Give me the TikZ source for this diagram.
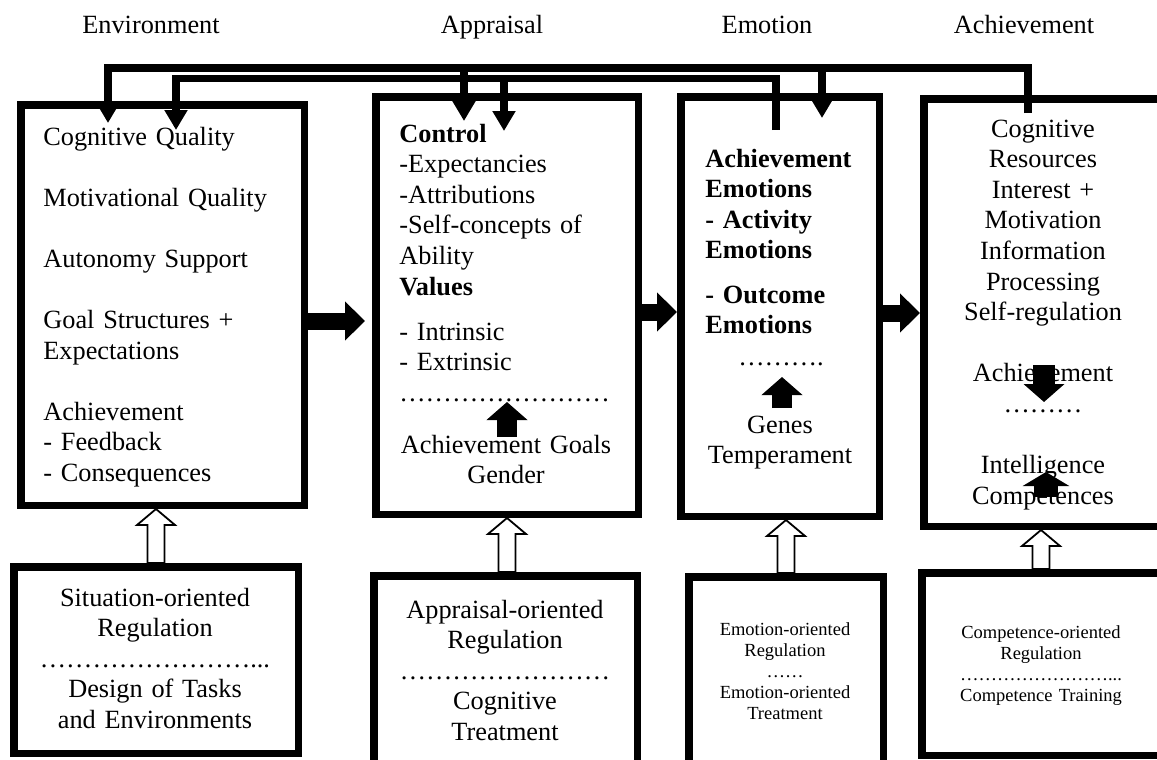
\documentclass[tikz,border=0pt]{standalone}
\usepackage{fontspec}
\setmainfont{Liberation Serif}
\usepackage{tikz}
\usetikzlibrary{arrows.meta,calc}

% hollow up arrow from #1 (foot) to #2 (tip)
\newcommand{\hollowup}[2]{%
  \path (#1) coordinate (hfoot) (#2) coordinate (htip);
  \draw[hollow] (htip) -- ++(19,16) -- ++(-10.5,0) -- ($(hfoot)+(8.5,0)$)
    -- ($(hfoot)+(-8.5,0)$) -- ($(htip)+(-8.5,16)$) -- ++(-10.5,0) -- cycle;}
% a row of #1 ellipses
\newcommand{\dotrow}[1]{\foreach \k in {1,...,#1}{\char"2026}}

\begin{document}
\begin{tikzpicture}[x=0.5pt, y=-0.5pt,
  box/.style={draw, line width=3.75pt, outer sep=1.875pt, inner sep=0pt},
  txt/.style={inner sep=0pt, font=\fontsize{13.15pt}{15.3pt}\selectfont},
  smalltxt/.style={inner sep=0pt, font=\fontsize{9.25pt}{10.6pt}\selectfont},
  fbline/.style={line width=3.75pt, -{Triangle[length=10pt, width=11pt]}},
  blockarrow/.style={line width=8.5pt, -{Triangle[length=10pt, width=19pt]}},
  solidarrow/.style={line width=10pt, -{Triangle[length=9pt, width=20pt]}},
  hollow/.style={draw, fill=white, line width=0.9pt}]
\useasboundingbox (0,0) rectangle (1157,760);
\clip (0,0) rectangle (1157,760);
\fill[white] (0,0) rectangle (1157,760);
% Column titles
\node[txt, anchor=base] (lenv) at (151,33) {Environment};
\node[txt, anchor=base] (lapr) at (492,33) {Appraisal};
\node[txt, anchor=base] (lemo) at (767,33) {Emotion};
\node[txt, anchor=base] (lach) at (1024,33) {Achievement};
% Top row boxes
\node[box, minimum width=141.75pt, minimum height=200.25pt] (env) at (162.5,305) {};
\node[box, minimum width=131.25pt, minimum height=208.75pt] (apr) at (507,305.5) {};
\node[box, minimum width=99.25pt, minimum height=209.75pt] (emo) at (780,306.5) {};
\node[box, minimum width=119.25pt, minimum height=213.75pt] (ach) at (1043,312.5) {};
% Regulation boxes
\node[box, minimum width=142.25pt, minimum height=93.25pt] (sitreg) at (156,660) {};
\node[box, minimum width=131.75pt, minimum height=105.25pt] (aprreg) at (505.5,681) {};
\node[box, minimum width=97.25pt, minimum height=104.75pt] (emoreg) at (786,681.5) {};
\node[box, minimum width=119.25pt, minimum height=91.25pt] (comreg) at (1041,664) {};
% Environment text
\node[txt, text width=130pt, align=left, anchor=base west] (envtxt) at (43,145)
  {Cognitive Quality\\[15.3pt]Motivational Quality\\[15.3pt]Autonomy Support\\[15.3pt]%
   Goal Structures +\\Expectations\\[15.3pt]Achievement\\- Feedback\\- Consequences};
% Appraisal text
\node[txt, text width=115pt, align=left, anchor=base west] (aprtxt) at (399,142)
  {\textbf{Control}\\-Expectancies\\-Attributions\\-Self-concepts of\\Ability\\\textbf{Values}\\[7.2pt]%
   - Intrinsic\\- Extrinsic\\\dotrow{8}};
\node[txt, text width=120pt, align=center, anchor=base] (aprlow) at (506,453)
  {Achievement Goals\\Gender};
% Emotion text
\node[txt, font=\fontsize{13.15pt}{15.3pt}\selectfont\bfseries, text width=85pt, align=left,
  anchor=base west] (emotxt) at (705,167)
  {Achievement\\Emotions\\- Activity\\Emotions\\[6.8pt]- Outcome\\Emotions};
\node[txt, anchor=base] (emodots) at (781,365) {\dotrow{3}.};
\node[txt, text width=90pt, align=center, anchor=base] (emolow) at (780,433)
  {Genes\\Temperament};
% Achievement text
\node[txt, text width=110pt, align=center, anchor=base] (achtxt) at (1043,137)
  {Cognitive\\Resources\\Interest +\\Motivation\\Information\\Processing\\Self-regulation\\[15.3pt]%
   Achievement\\\dotrow{3}\\[15.3pt]Intelligence\\Competences};
% Regulation texts
\node[txt, text width=140pt, align=center, anchor=base] (sittxt) at (155,606)
  {Situation-oriented\\Regulation\\\dotrow{8}...\\Design of Tasks\\and Environments};
\node[txt, text width=130pt, align=center, anchor=base] (aprregtxt) at (505,618)
  {Appraisal-oriented\\Regulation\\\dotrow{8}\\Cognitive\\Treatment};
\node[smalltxt, text width=95pt, align=center, anchor=base] (emoregtxt) at (785,635)
  {Emotion-oriented\\Regulation\\\dotrow{2}\\Emotion-oriented\\Treatment};
\node[smalltxt, text width=115pt, align=center, anchor=base] (comregtxt) at (1041,638)
  {Competence-oriented\\Regulation\\\dotrow{8}...\\Competence Training};
% Arrows between the boxes
\draw[blockarrow, shorten >=3.5pt] ([yshift=-8pt]env.east) -- ([yshift=-8pt]env.east -| apr.west);
\draw[blockarrow] ([yshift=-3.25pt]apr.east) -- ([yshift=-3.25pt]apr.east -| emo.west);
\draw[blockarrow] ([yshift=-3.25pt]emo.east) -- ([yshift=-3.25pt]emo.east -| ach.west);
% Feedback loops
\coordinate (fbtop) at (0,68);
\coordinate (fbbot) at (0,78.5);
\coordinate (achout) at (1028,113);
\coordinate (emoout) at (776,130);
\coordinate (envinA) at (108,123);
\coordinate (envinB) at (176,130);
\coordinate (aprinA) at (464,121);
\coordinate (aprinB) at (504,131);
\coordinate (emoin) at (822,118);
\draw[fbline] (achout) -- (achout |- fbtop) -| (envinA);
\draw[fbline] (aprinA |- fbtop) -- (aprinA);
\draw[fbline] (emoin |- fbtop) -- (emoin);
\draw[fbline] (emoout) -- (emoout |- fbbot) -| (envinB);
\draw[fbline] (aprinB |- fbbot) -- (aprinB);
% Arrows inside the boxes
\coordinate (aprup) at (507,402);
\coordinate (emoup) at (782,377);
\coordinate (achdown) at (1044,402);
\coordinate (achup) at (1046,472);
\draw[solidarrow] (aprup) ++(0,35) -- (aprup);
\draw[solidarrow] (emoup) ++(0,31) -- (emoup);
\draw[solidarrow, line width=11pt] (achdown) ++(0,-37) -- (achdown);
\draw[line width=12pt, -{Triangle[length=7pt, width=23pt]}] (achup) ++(0,25) -- (achup);
% Regulation arrows
\hollowup{sitreg.north}{sitreg.north |- env.south}
\hollowup{apr.south |- aprreg.north}{apr.south}
\hollowup{emoreg.north}{emoreg.north |- emo.south}
\hollowup{comreg.north}{comreg.north |- ach.south}
\end{tikzpicture}
\end{document}
